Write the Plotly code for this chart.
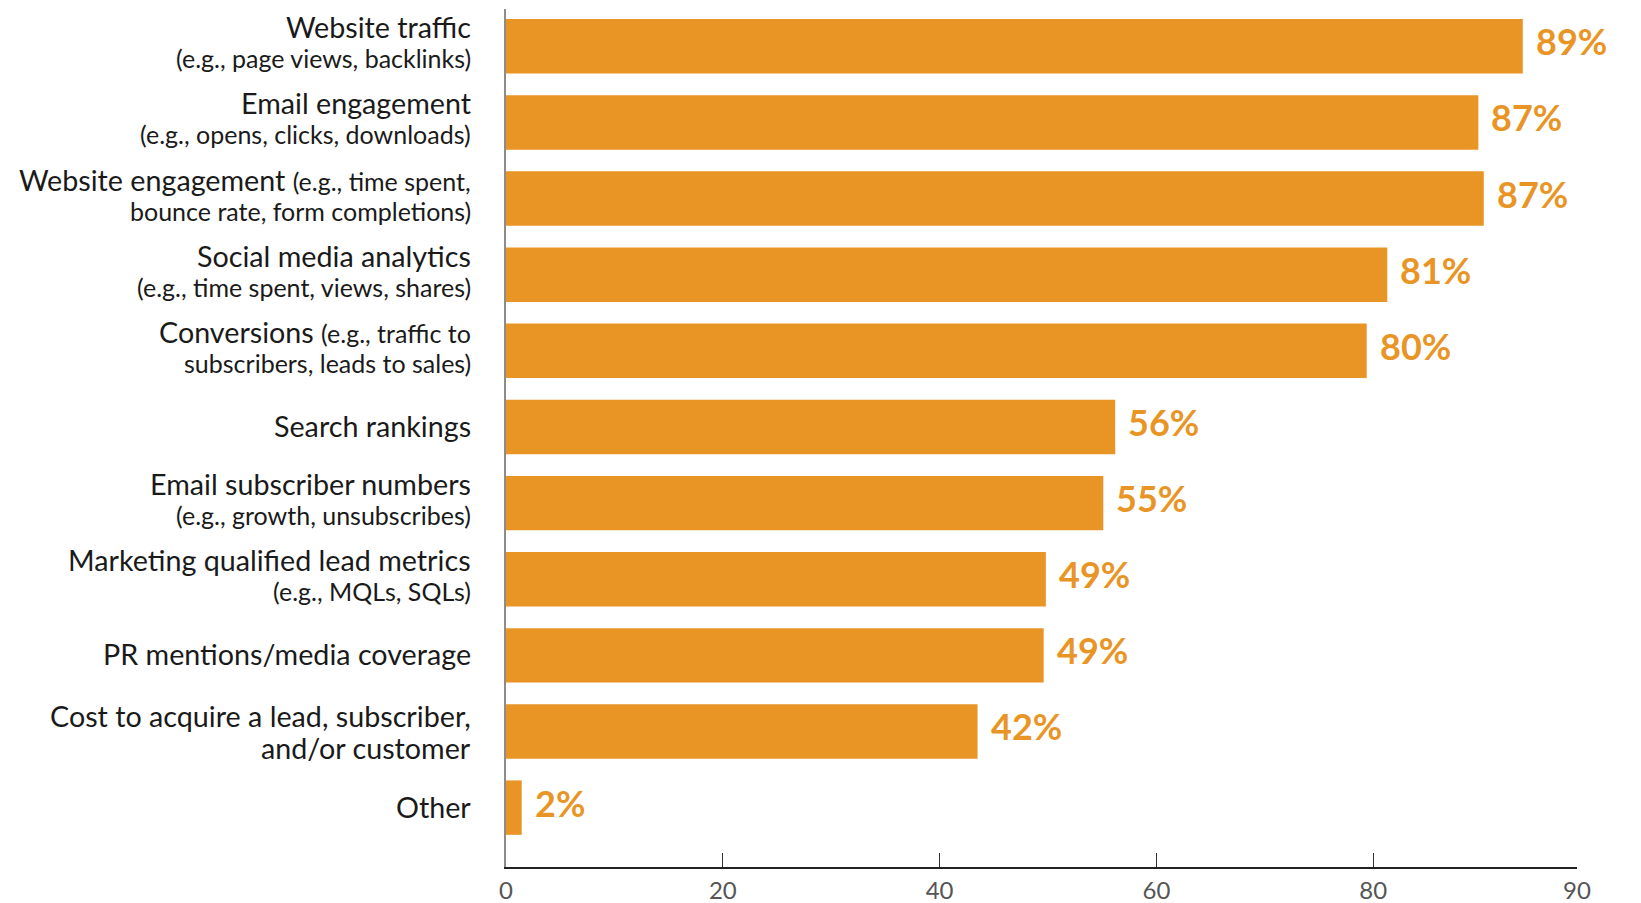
import plotly.graph_objects as go

# ---- data ----
label_main = [
    "Website traffic",
    "Email engagement",
    "Website engagement",
    "Social media analytics",
    "Conversions",
    "Search rankings",
    "Email subscriber numbers",
    "Marketing qualified lead metrics",
    "PR mentions/media coverage",
    "Cost to acquire a lead, subscriber,\nand/or customer",
    "Other",
]
label_detail = [
    "(e.g., page views, backlinks)",
    "(e.g., opens, clicks, downloads)",
    "(e.g., time spent,\nbounce rate, form completions)",
    "(e.g., time spent, views, shares)",
    "(e.g., traffic to\nsubscribers, leads to sales)",
    "",
    "(e.g., growth, unsubscribes)",
    "(e.g., MQLs, SQLs)",
    "",
    "",
    "",
]
# bar lengths as drawn on the axis
bar_length = [93.8, 89.7, 90.2, 81.3, 79.4, 56.2, 55.1, 49.8, 49.6, 43.5, 1.45]
# printed labels
value_labels = ["89%", "87%", "87%", "81%", "80%", "56%", "55%", "49%", "49%", "42%", "2%"]
x_tick_vals = [0, 20, 40, 60, 80, 98.8]
x_tick_text = ["0", "20", "40", "60", "80", "90"]

# ---- styling ----
ORANGE = "#E99526"
FONT = "Lato"
MAIN_SIZE = 28.7
SUB_SIZE = 25

cats = list(range(len(label_main)))

fig = go.Figure(
    go.Bar(
        x=bar_length,
        y=cats,
        orientation="h",
        marker=dict(color=ORANGE, line=dict(width=0)),
        hoverinfo="skip",
    )
)

def small(t):
    return f'<span style="font-size:{SUB_SIZE}px">{t}</span>'

annotations = []
for i, (m, d) in enumerate(zip(label_main, label_detail)):
    if d and "\n" in d:
        a, b = d.split("\n")
        lines = [m + " " + small(a), small(b)]
        shifts = [19, -12]
    elif d:
        lines = [m, small(d)]
        shifts = [19, -12]
    elif "\n" in m:
        lines = m.split("\n")
        shifts = [15, -17]
    else:
        lines = [m]
        shifts = [1]
    for line, sh in zip(lines, shifts):
        annotations.append(dict(
            x=0, y=i, xref="x", yref="y", text=line, showarrow=False,
            xanchor="right", yanchor="middle", xshift=-33, yshift=sh,
            font=dict(family=FONT, size=MAIN_SIZE, color="#1a1a1a"),
        ))
    annotations.append(dict(
        x=bar_length[i], y=i, xref="x", yref="y", text=f"<b>{value_labels[i]}</b>",
        showarrow=False, xanchor="left", yanchor="middle", xshift=11, yshift=5,
        font=dict(family=FONT, size=36, color=ORANGE),
    ))

fig.update_layout(
    width=1641, height=903,
    margin=dict(l=506, r=64, t=9, b=36),
    paper_bgcolor="white", plot_bgcolor="white",
    bargap=0.285,
    showlegend=False,
    annotations=annotations,
    font=dict(family=FONT),
)
fig.update_yaxes(
    range=[10.78, -0.49], showticklabels=False, showgrid=False, zeroline=False,
    showline=True, linecolor="#8c8c8c", linewidth=2, ticks="", automargin=False,
)
fig.update_xaxes(
    range=[0, 98.8], tickvals=x_tick_vals, ticktext=x_tick_text,
    showgrid=False, zeroline=False, showline=True, linecolor="#222", linewidth=2,
    ticks="inside", ticklen=14, tickwidth=1, tickcolor="#333",
    tickfont=dict(family=FONT, size=24, color="#555"),
    automargin=False, ticklabelstandoff=1,
)

fig.write_html(
    "out.html",
    config={"displayModeBar": False},
    post_script="document.body.style.margin='0';",
)
